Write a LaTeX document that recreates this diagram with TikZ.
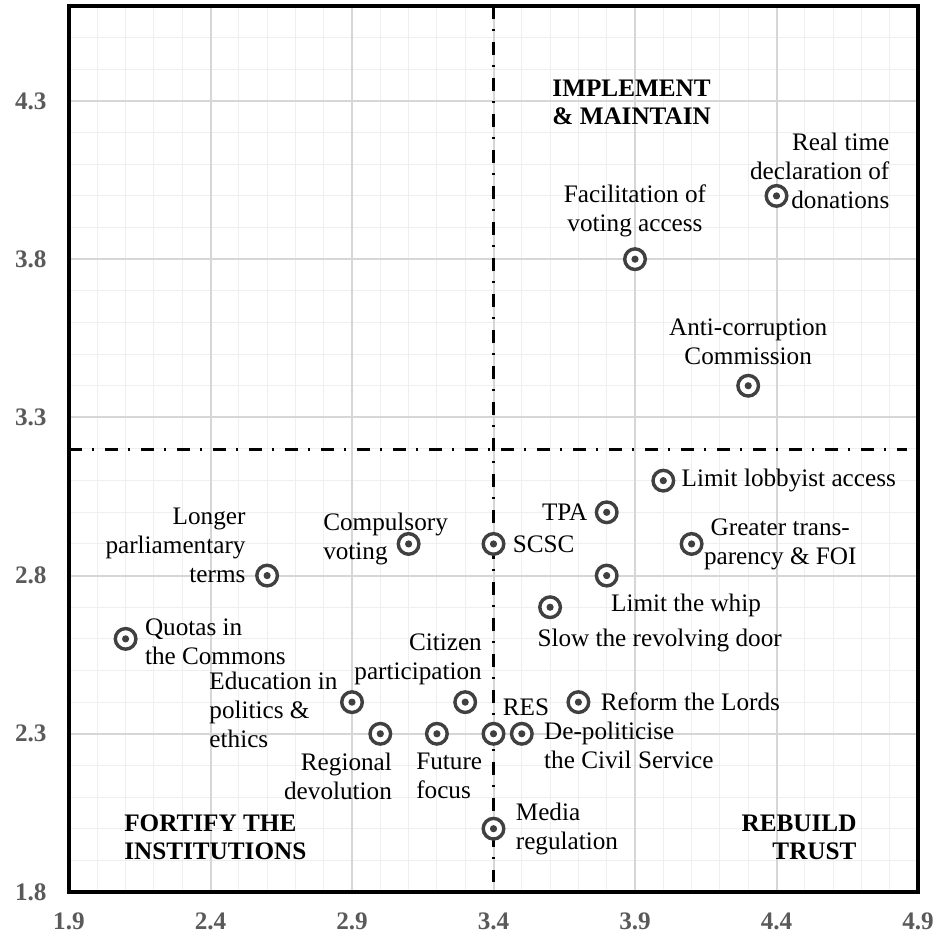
\documentclass[tikz,border=0pt]{standalone}
\usepackage{fontspec}
\setmainfont{Liberation Serif}
\usetikzlibrary{positioning}
\definecolor{markgray}{HTML}{404040}
\definecolor{tickgray}{HTML}{5A5A5A}
\definecolor{minorgray}{HTML}{EFEFEF}
\definecolor{majorgray}{HTML}{D6D6D6}
\begin{document}
\begin{tikzpicture}[x=141.5pt, y=158.2pt,
  pmark/.style={circle, draw=markgray, fill=white, line width=1.7pt, minimum size=10.3pt, inner sep=0pt,
    path picture={\fill[markgray] (path picture bounding box.center) circle (1.8pt);}},
  lbl/.style={font=\fontsize{12.6}{14.5}\selectfont, inner sep=0pt},
  quad/.style={font=\fontsize{12.6}{14}\selectfont\bfseries, inner sep=0pt},
  tick/.style={font=\fontsize{12.6}{14.5}\selectfont\bfseries, text=tickgray, inner sep=0pt},
  divider/.style={line width=1.5pt, dash pattern=on 6.5pt off 5pt on 1pt off 5.5pt}]
\useasboundingbox (1.6562,1.6641) rectangle (4.9636,4.6192);
% grid
\foreach \gx in {2.0,2.1,...,4.85} \draw[minorgray, line width=0.5pt] (\gx,1.8) -- (\gx,4.6);
\foreach \gy in {1.9,2.0,...,4.55} \draw[minorgray, line width=0.5pt] (1.9,\gy) -- (4.9,\gy);
\foreach \gx in {2.4,2.9,3.4,3.9,4.4} \draw[majorgray, line width=1pt] (\gx,1.8) -- (\gx,4.6);
\foreach \gy in {2.3,2.8,3.3,3.8,4.3} \draw[majorgray, line width=1pt] (1.9,\gy) -- (4.9,\gy);
% axes labels
\foreach \v in {1.8,2.3,2.8,3.3,3.8,4.3} \node[tick, anchor=east] at (1.822,\v) {\v};
\foreach \v in {1.9,2.4,2.9,3.4,3.9,4.4,4.9} \node[tick, anchor=north] at (\v,1.734) {\v};
% quadrant dividers
\draw[divider] (1.9,3.2) -- (4.86,3.2);
\draw[divider] (3.4,4.6) -- (3.4,1.83);
\draw[line width=2.2pt] (1.9,1.8) rectangle (4.9,4.6);
% quadrant names
\node[quad, align=left, anchor=west] at (3.607,4.295) {IMPLEMENT\\\& MAINTAIN};
\node[quad, align=left, anchor=west] at (2.094,1.974) {FORTIFY THE\\INSTITUTIONS};
\node[quad, align=right, anchor=east] at (4.684,1.974) {REBUILD\\TRUST};
% points
\node[pmark] (donations) at (4.4,4.0) {};
\node[pmark] (voting) at (3.9,3.8) {};
\node[pmark] (anticorr) at (4.3,3.4) {};
\node[pmark] (lobby) at (4.0,3.1) {};
\node[pmark] (tpa) at (3.8,3.0) {};
\node[pmark] (scsc) at (3.4,2.9) {};
\node[pmark] (transp) at (4.1,2.9) {};
\node[pmark] (whip) at (3.8,2.8) {};
\node[pmark] (revolving) at (3.6,2.7) {};
\node[pmark] (compulsory) at (3.1,2.9) {};
\node[pmark] (terms) at (2.6,2.8) {};
\node[pmark] (quotas) at (2.1,2.6) {};
\node[pmark] (education) at (2.9,2.4) {};
\node[pmark] (citizen) at (3.3,2.4) {};
\node[pmark] (lords) at (3.7,2.4) {};
\node[pmark] (regional) at (3.0,2.3) {};
\node[pmark] (future) at (3.2,2.3) {};
\node[pmark] (res) at (3.4,2.3) {};
\node[pmark] (civil) at (3.5,2.3) {};
\node[pmark] (media) at (3.4,2.0) {};
% point labels
\node[lbl, align=right, anchor=east] at (4.80,4.08) {Real time\\declaration of\\donations};
\node[lbl, align=center, above=5pt of voting] {Facilitation of\\voting access};
\node[lbl, align=center, above=4.5pt of anticorr] {Anti-corruption\\Commission};
\node[lbl, right=3pt of lobby] {Limit lobbyist access};
\node[lbl, left=3.5pt of tpa] {TPA};
\node[lbl, right=3.5pt of scsc] {SCSC};
\node[lbl, align=center, right=0pt of transp] {Greater trans-\\parency \& FOI};
\node[lbl, below right=3pt and 2pt of whip.south] {Limit the whip};
\node[lbl, below right=4.5pt and -6.5pt of revolving.south] {Slow the revolving door};
\node[lbl, align=left, anchor=west] at (2.797,2.916) {Compulsory\\voting};
\node[lbl, align=right, anchor=east] at (2.525,2.894) {Longer\\parliamentary\\terms};
\node[lbl, align=left, right=3.5pt of quotas, yshift=-1.5pt] {Quotas in\\the Commons};
\node[lbl, align=left, anchor=west] at (2.395,2.375) {Education in\\politics \&\\ethics};
\node[lbl, align=right, above left=2.5pt and -8.5pt of citizen.north] {Citizen\\participation};
\node[lbl, right=5pt of lords] {Reform the Lords};
\node[lbl, align=right, below left=3.5pt and -6pt of regional.south] {Regional\\devolution};
\node[lbl, align=left, below right=3.5pt and -10.5pt of future.south] {Future\\focus};
\node[lbl, above right=3pt and 4.5pt of res.north] {RES};
\node[lbl, align=left, right=5pt of civil, yshift=-6pt] {De-politicise\\the Civil Service};
\node[lbl, align=left, right=5pt of media] {Media\\regulation};
\end{tikzpicture}
\end{document}
